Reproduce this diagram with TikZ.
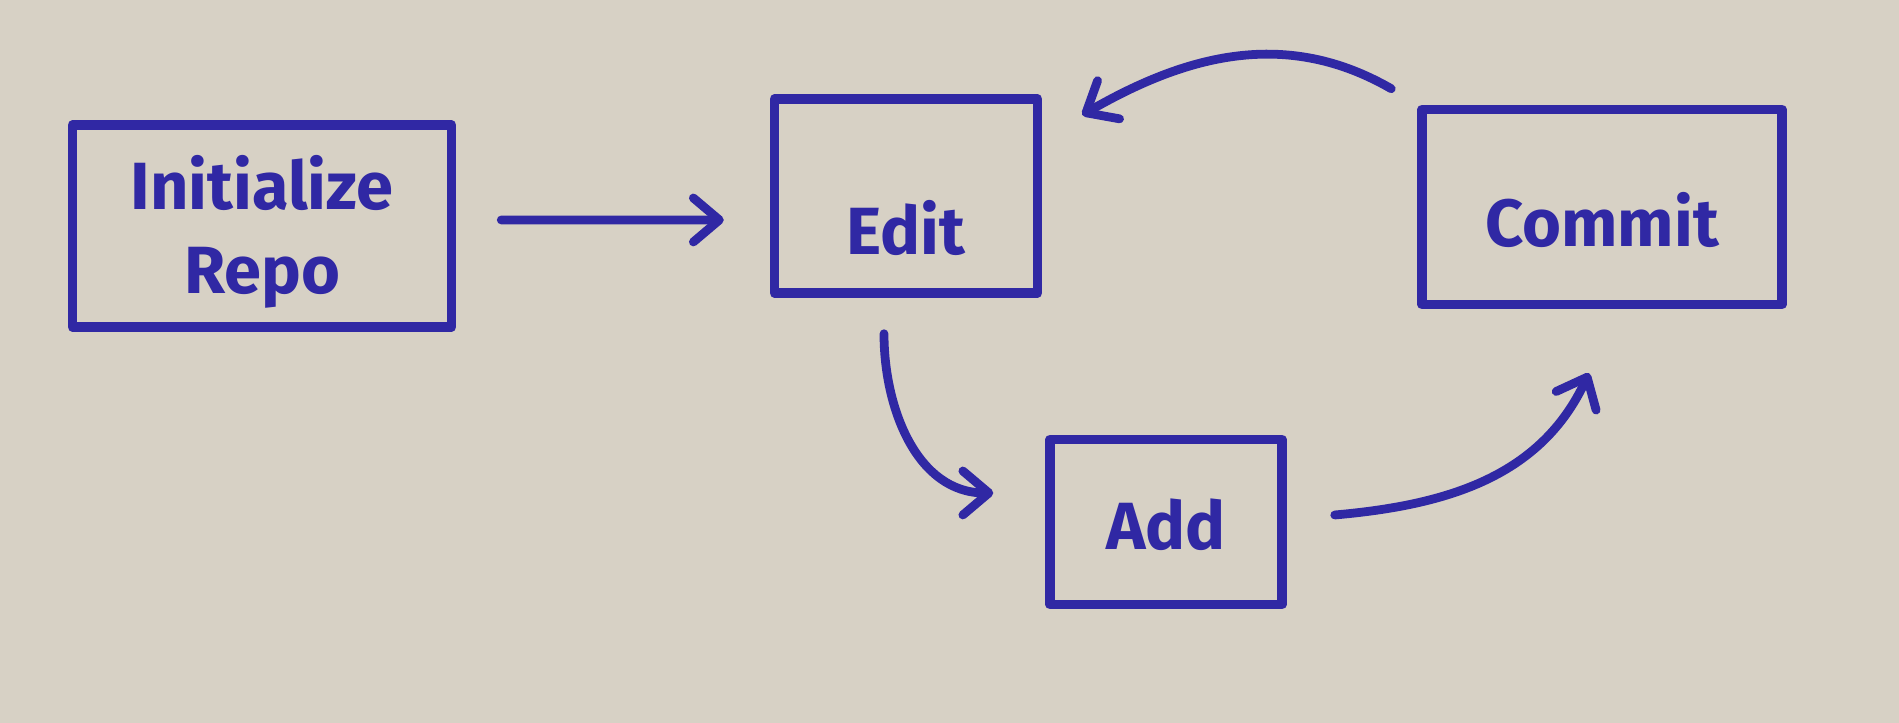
\documentclass[tikz,border=0pt]{standalone}
\usepackage{fontspec}
\setmainfont{Fira Sans}
\usetikzlibrary{arrows.meta}
\definecolor{paper}{RGB}{215,209,197}
\definecolor{ink}{RGB}{48,40,164}
\tikzset{
    box/.style={shape=rectangle, draw=ink, line width=2.7pt, line join=round, inner sep=0pt},
    txt/.style={text=ink, font=\fontsize{19}{24}\selectfont\bfseries, align=center},
    flow/.style={draw=ink, line width=2.5pt, line cap=round,
        -{Straight Barb[length=2.6mm, width=4.4mm, line cap=round, line join=round]}}
}
\begin{document}
\begin{tikzpicture}
    \fill[paper] (0,0) rectangle (18.99,7.23);

    \node[box, minimum width=3.79cm, minimum height=2.02cm, label={[txt, yshift=-0.6mm]center:Initialize\\Repo}] (init) at (2.62,4.97) {};
    \node[box, minimum width=2.63cm, minimum height=1.94cm, label={[txt, yshift=-3.2mm]center:Edit}] (edit) at (9.06,5.27) {};
    \node[box, minimum width=3.60cm, minimum height=1.95cm, label={[txt, yshift=-1.3mm]center:Commit}] (commit) at (16.02,5.16) {};
    \node[box, minimum width=2.32cm, minimum height=1.65cm, label={[txt, yshift=-0.3mm]center:Add}] (add) at (11.66,2.01) {};

    \draw[flow] ([xshift=4.5mm,yshift=0.6mm]init.east) -- ([xshift=-4.6mm,yshift=-2.4mm]edit.west);
    \draw[flow] ([xshift=-2.2mm,yshift=-3.6mm]edit.south) to[out=-90,in=180] ([xshift=-5.2mm,yshift=2.9mm]add.west);
    \draw[flow] ([xshift=4.8mm,yshift=0.7mm]add.east) to[out=5,in=-115] ([xshift=-1.3mm,yshift=-6.4mm]commit.south);
    \draw[flow] ([xshift=-2.6mm,yshift=1.6mm]commit.north west) to[out=150,in=30] ([xshift=4mm,yshift=8.1mm]edit.east);

\end{tikzpicture}
\end{document}
